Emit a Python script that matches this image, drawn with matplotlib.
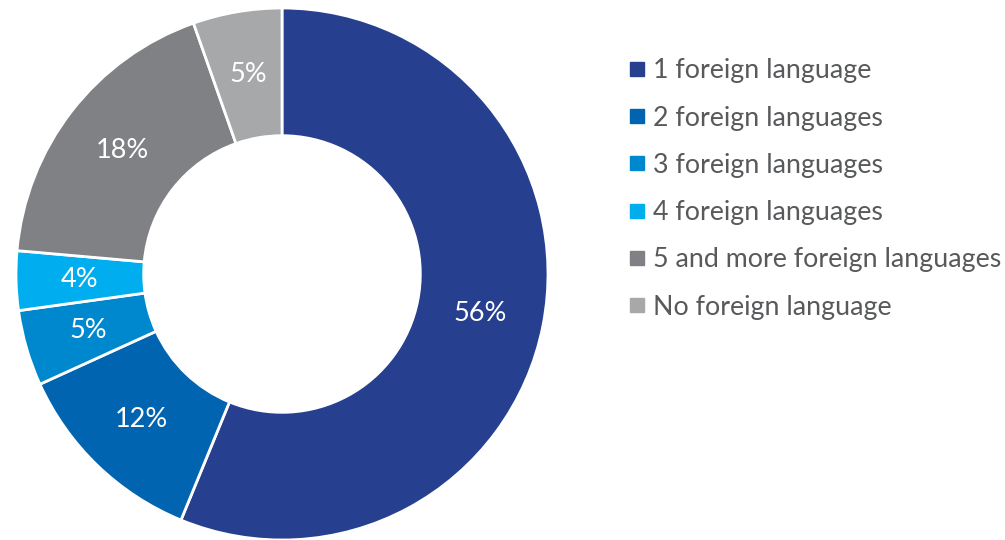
import matplotlib.pyplot as plt
from matplotlib.lines import Line2D
import numpy as np

# Share of people by number of foreign languages known (%)
categories = ['1 foreign language', '2 foreign languages', '3 foreign languages',
              '4 foreign languages', '5 and more foreign languages', 'No foreign language']
shares = [56.2, 12.0, 4.6, 3.6, 18.2, 5.4]
labels = ['56%', '12%', '5%', '4%', '18%', '5%']
colors = ['#263F8E', '#0064B0', '#0088CE', '#00AEEF', '#808184', '#A7A8AA']

plt.rcParams['font.family'] = ['Lato', 'DejaVu Sans']

fig = plt.figure(figsize=(10.05, 5.4), dpi=100)
# donut centred at about (282, 274) px, radius ~264 px
ax = fig.add_axes([16 / 1005, 0 / 540, 532 / 1005, 532 / 540])

wedges, _ = ax.pie(shares, colors=colors, startangle=90, counterclock=False,
                   radius=1.0, wedgeprops=dict(width=0.48, edgecolor='white', linewidth=2))

# percentage labels in the middle of each ring segment
for w, lab in zip(wedges, labels):
    ang = np.deg2rad((w.theta1 + w.theta2) / 2)
    ax.text(0.76 * np.cos(ang), 0.76 * np.sin(ang), lab, ha='center', va='center',
            color='white', fontsize=19.5)

ax.set_xlim(-1, 1)
ax.set_ylim(-1, 1)
ax.set_aspect('equal')
ax.axis('off')

handles = [Line2D([], [], marker='s', linestyle='none', markersize=10, color=c) for c in colors]
fig.legend(handles, categories, loc='center left', bbox_to_anchor=(629 / 1005, 1 - 189 / 540),
           frameon=False, fontsize=19.3, labelcolor='#58595B', handlelength=0.6,
           handletextpad=0.3, labelspacing=0.83, borderpad=0, borderaxespad=0)

fig.savefig('out.png', dpi=100)
